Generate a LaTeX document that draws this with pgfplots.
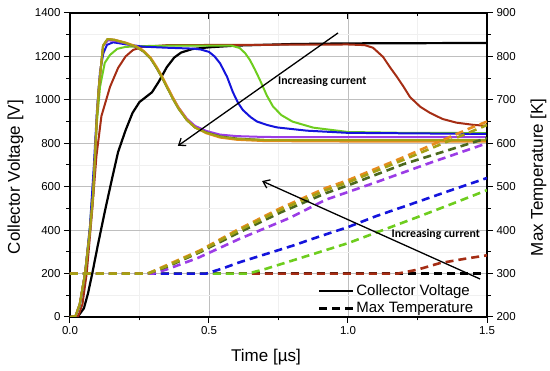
\documentclass[border=0pt]{standalone}
\usepackage{fontspec}
\setmainfont{Liberation Sans}
\newfontfamily\annfont{Carlito}
\usepackage{pgfplots}
\pgfplotsset{compat=1.18}
\usetikzlibrary{arrows.meta}
\definecolor{cBrown}{RGB}{165,45,20}
\definecolor{cGreen}{RGB}{110,205,30}
\definecolor{cBlue}{RGB}{20,20,220}
\definecolor{cPurple}{RGB}{155,60,230}
\definecolor{cOrange}{RGB}{230,140,30}
\definecolor{cOlive}{RGB}{165,160,20}
\definecolor{cDkGreen}{RGB}{75,105,30}
\begin{document}
\begin{tikzpicture}
\pgfplotsset{
 common/.style={scale only axis, width=417pt, height=304pt, xmin=0, xmax=1.5,
   /pgf/number format/assume math mode=true,
   /pgf/number format/1000 sep={},
   ticklabel style={font=\fontsize{11.5}{13}\selectfont},
   label style={font=\fontsize{17}{20}\selectfont},
   major tick length=6pt, minor tick length=3.5pt,
   tick style={black, line width=1pt},
   axis line style={line width=1.2pt},
 }
}
\begin{axis}[common, ymin=0, ymax=1400,
  xtick={0,0.5,1,1.5}, minor x tick num=1,
  ytick={0,200,...,1400}, minor y tick num=1,
  tick align=outside, xtick pos=bottom, ytick pos=left,
  grid=both, major grid style={gray!50, line width=0.8pt}, minor grid style={gray!12, line width=0.5pt},
  xticklabel style={/pgf/number format/.cd, fixed, fixed zerofill, precision=1},
  yticklabel style={/pgf/number format/.cd, 1000 sep={}},
  xlabel={Time [µs]}, ylabel={Collector Voltage [V]},
  xlabel style={at={(axis description cs:0.47,-0.145)}, anchor=base, inner sep=0pt},
  ylabel style={at={(axis description cs:-0.12,0.46)}, anchor=base, inner sep=0pt},
  every axis plot/.append style={line width=2pt, line join=round, no markers}]
% black
\addplot[black, line width=2.2pt] coordinates {(0,0)(0.03,5)(0.05,40)(0.065,110)(0.08,200)(0.1,330)(0.126,490)(0.15,630)(0.173,760)(0.2,860)(0.225,940)(0.25,990)(0.275,1015)(0.295,1035)(0.32,1085)(0.348,1150)(0.375,1195)(0.4,1218)(0.44,1234)(0.5,1242)(0.6,1250)(0.8,1257)(1.0,1260)(1.5,1262)};
% brown
\addplot[cBrown] coordinates {(0,0)(0.03,5)(0.045,60)(0.06,200)(0.08,493)(0.095,740)(0.113,925)(0.144,1060)(0.173,1147)(0.2,1200)(0.227,1230)(0.263,1244)(0.35,1252)(1.0,1255)(1.06,1252)(1.09,1240)(1.126,1198)(1.15,1152)(1.176,1106)(1.2,1060)(1.223,1013)(1.26,968)(1.295,940)(1.34,912)(1.39,895)(1.45,885)(1.5,880)};
% green
\addplot[cGreen] coordinates {(0,0)(0.02,5)(0.035,50)(0.055,200)(0.072,420)(0.085,650)(0.097,900)(0.108,1060)(0.125,1170)(0.144,1207)(0.17,1235)(0.2,1244)(0.3,1249)(0.58,1250)(0.61,1239)(0.63,1215)(0.647,1184)(0.665,1140)(0.683,1092)(0.708,1020)(0.73,970)(0.76,930)(0.8,900)(0.875,872)(1.0,852)(1.2,848)(1.5,847)};
% blue
\addplot[cBlue] coordinates {(0,0)(0.02,5)(0.035,55)(0.054,200)(0.072,420)(0.085,680)(0.097,950)(0.108,1130)(0.12,1215)(0.133,1253)(0.155,1265)(0.2,1256)(0.263,1245)(0.35,1240)(0.44,1236)(0.47,1232)(0.5,1221)(0.52,1200)(0.54,1168)(0.565,1106)(0.586,1035)(0.605,985)(0.622,953)(0.65,920)(0.673,900)(0.71,884)(0.745,873)(0.853,858)(1.0,848)(1.5,843)};
% purple
\addplot[cPurple] coordinates {(0,0)(0.02,5)(0.035,60)(0.054,200)(0.072,400)(0.083,560)(0.097,930)(0.104,1060)(0.119,1248)(0.137,1274)(0.16,1272)(0.2,1260)(0.24,1242)(0.265,1222)(0.29,1190)(0.31,1150)(0.33,1106)(0.35,1058)(0.37,1010)(0.39,966)(0.42,914)(0.45,880)(0.49,857)(0.54,840)(0.6,833)(0.7,829)(1.0,828)(1.5,828)};
% dark green
\addplot[cDkGreen] coordinates {(0,0)(0.02,5)(0.035,60)(0.054,200)(0.072,400)(0.083,560)(0.097,930)(0.104,1060)(0.119,1250)(0.135,1280)(0.16,1276)(0.2,1262)(0.24,1243)(0.265,1222)(0.29,1190)(0.31,1150)(0.33,1105)(0.35,1055)(0.37,1005)(0.39,960)(0.42,907)(0.45,872)(0.49,850)(0.54,832)(0.6,822)(0.7,815)(1.0,813)(1.5,813)};
% orange
\addplot[cOrange] coordinates {(0,0)(0.02,5)(0.035,60)(0.054,200)(0.072,400)(0.083,560)(0.097,930)(0.104,1060)(0.119,1250)(0.135,1280)(0.16,1277)(0.2,1264)(0.24,1246)(0.265,1226)(0.29,1195)(0.31,1156)(0.33,1112)(0.35,1062)(0.37,1012)(0.39,966)(0.42,910)(0.45,873)(0.49,846)(0.54,826)(0.6,816)(0.7,810)(1.0,808)(1.5,808)};
% olive
\addplot[cOlive] coordinates {(0,0)(0.02,5)(0.035,60)(0.054,200)(0.072,400)(0.083,560)(0.097,930)(0.104,1060)(0.119,1250)(0.135,1280)(0.16,1276)(0.2,1262)(0.24,1243)(0.265,1222)(0.29,1190)(0.31,1150)(0.33,1105)(0.35,1055)(0.37,1005)(0.39,960)(0.42,907)(0.45,872)(0.49,849)(0.54,830)(0.6,820)(0.7,815)(1.0,814)(1.5,814)};
\end{axis}

\begin{axis}[common, ymin=200, ymax=900, ytick={200,300,...,900}, minor y tick num=1,
  axis x line=none, axis y line*=right, tick align=outside,
  ylabel={Max Temperature [K]},
  ylabel style={at={(axis description cs:1.134,0.46)}, anchor=base, inner sep=0pt},
  every axis plot/.append style={line width=2.6pt, dash pattern=on 8pt off 5pt, no markers},
  legend image code/.code={\draw[#1] (0pt,0pt) -- (34pt,0pt);},
  legend style={draw=none, fill=none, at={(0.972,0.002)}, anchor=south east,
    font=\fontsize{15}{17}\selectfont, inner sep=0pt, row sep=1pt, cells={anchor=west}}]
\addlegendimage{black, line width=2.2pt, solid}
\addlegendentry{Collector Voltage}
\addlegendimage{black, line width=2.6pt, dash pattern=on 8pt off 5pt}
\addlegendentry{Max Temperature}
\addplot[black] coordinates {(0,300)(1.5,300)};
\addplot[cBrown] coordinates {(0,300)(1.18,300)(1.25,309)(1.33,324)(1.42,334)(1.5,342)};
\addplot[cGreen] coordinates {(0,300)(0.64,300)(0.7,310)(0.8,330)(0.9,350)(1.0,370)(1.1,394)(1.25,430)(1.38,462)(1.5,492)};
\addplot[cBlue] coordinates {(0,300)(0.49,300)(0.55,312)(0.61,326)(0.7,344)(0.8,364)(0.9,386)(1.0,407)(1.1,432)(1.25,465)(1.38,494)(1.5,520)};
\addplot[cPurple] coordinates {(0,300)(0.3,300)(0.35,310)(0.46,336)(0.61,380)(0.79,428)(0.92,470)(1.1,510)(1.3,556)(1.5,600)};
\addplot[cDkGreen] coordinates {(0,300)(0.28,300)(0.35,316)(0.47,350)(0.6,392)(0.755,440)(0.92,485)(1.0,503)(1.2,552)(1.5,612)};
\addplot[cOrange] coordinates {(0,300)(0.28,300)(0.35,320)(0.47,354)(0.6,400)(0.755,450)(0.92,497)(1.0,515)(1.2,568)(1.44,635)(1.5,650)};
\addplot[cOlive] coordinates {(0,300)(0.28,300)(0.35,318)(0.47,352)(0.6,397)(0.755,446)(0.92,492)(1.0,510)(1.2,562)(1.5,642)};
\end{axis}

\begin{axis}[common, ymin=0, ymax=1400, axis x line*=top, axis y line=none,
  xtick={0,0.5,1,1.5}, minor x tick num=1, xticklabels={}, tick align=inside]
\draw[line width=1.3pt, -{Straight Barb[length=6pt,width=9pt]}] (axis cs:0.964,1308) -- (axis cs:0.388,788);
\draw[line width=1.3pt, -{Straight Barb[length=6pt,width=9pt]}] (axis cs:1.475,175) -- (axis cs:0.691,626);
\node[font=\annfont\bfseries\fontsize{11.8}{13}\selectfont, anchor=base west, inner sep=0pt] at (axis cs:0.748,1069) {Increasing current};
\node[font=\annfont\bfseries\fontsize{11.8}{13}\selectfont, anchor=base east, inner sep=0pt] at (axis cs:1.475,364) {Increasing current};
\end{axis}
\pgfresetboundingbox
\path[use as bounding box] (-70pt,-54pt) rectangle (480pt,317pt);
\end{tikzpicture}
\end{document}
